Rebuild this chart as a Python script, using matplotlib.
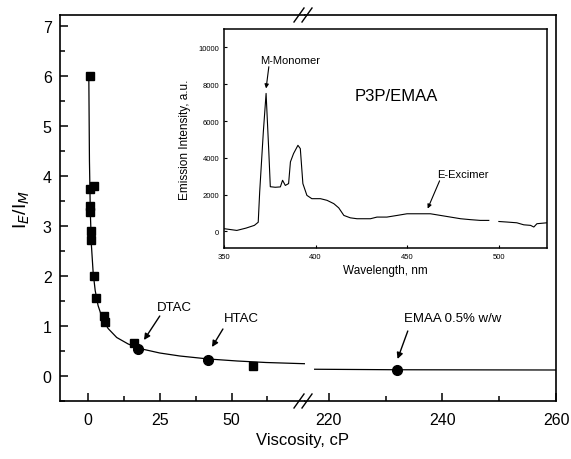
"""Excimer/monomer ratio vs viscosity, broken x axis, with emission spectrum inset."""

import matplotlib
matplotlib.use("Agg")
import matplotlib.pyplot as plt
from matplotlib.ticker import MultipleLocator, FixedLocator
import numpy as np

plt.rcParams["font.family"] = ["Liberation Sans", "DejaVu Sans"]

# --- Data ---
sq_x = [0.7, 0.7, 2.1, 0.7, 0.7, 1.2, 1.2, 2.1, 2.8, 5.6, 5.8, 16.0, 57.5]
sq_y = [6.0, 3.74, 3.80, 3.40, 3.28, 2.90, 2.72, 2.00, 1.56, 1.20, 1.08, 0.66, 0.20]

circ_x = [17.5, 41.8, 232.0]
circ_y = [0.54, 0.32, 0.12]
circ_names = ["DTAC", "HTAC", "EMAA 0.5% w/w"]

fit_x = [0.28, 0.5, 0.8, 1.2, 1.8, 2.5, 3.5, 5, 7, 10, 14, 18, 25, 32, 42, 52, 62, 73, 76]
fit_y = [6.0, 4.30, 3.28, 2.60, 2.06, 1.71, 1.41, 1.15, 0.95, 0.77, 0.64, 0.55,
         0.46, 0.40, 0.34, 0.30, 0.27, 0.25, 0.245]
fit_x_far = [217.5, 232.0, 260.0]
fit_y_far = [0.135, 0.125, 0.12]

wl = [350, 357, 362, 366.6, 368.7, 369.5, 371.5, 373, 374.5, 375.3, 378, 380.8, 382,
      383.5, 385.3, 386.3, 388, 390.4, 391.7, 393.1, 395.3, 398, 402.7, 406.3, 410,
      412.7, 415.5, 419, 422.7, 430, 433.6, 439, 444.6, 450, 455.5, 462.8, 468.3,
      473.8, 479.3, 484.7, 490, 494.7, 497, 500.2, 504.7, 510, 513.8, 517.5, 519.3,
      521, 526.5]
intensity = [150, 55, 180, 330, 500, 2150, 5420, 7500, 4300, 2430, 2400, 2420, 2780,
             2500, 2600, 3780, 4230, 4680, 4500, 2600, 1960, 1780, 1780, 1690, 1510,
             1280, 870, 740, 690, 690, 780, 780, 870, 960, 960, 960, 870,
             780, 690, 640, 600, 600, np.nan, 540, 510, 470, 360, 330, 240,
             420, 470]

# --- Figure ---
W, H = 571, 460
fig = plt.figure(figsize=(W / 100, H / 100), dpi=100)
fig.patch.set_facecolor("white")

x0, xb, x1 = 60 / W, 305 / W, 556 / W
y0, y1 = 1 - 402 / H, 1 - 16 / H
ax_l = fig.add_axes([x0, y0, xb - x0, y1 - y0])
ax_r = fig.add_axes([xb, y0, x1 - xb, y1 - y0], sharey=ax_l)

for ax in (ax_l, ax_r):
    for s in ax.spines.values():
        s.set_linewidth(1.2)
    ax.tick_params(which="both", direction="in", labelsize=11.5, width=1.1,
                   top=False, right=False, pad=8)
    ax.tick_params(which="major", length=6)
    ax.tick_params(which="minor", length=3.5)

ax_l.spines["right"].set_visible(False)
ax_r.spines["left"].set_visible(False)
ax_r.tick_params(axis="y", which="both", left=False, labelleft=False)

ax_l.set_xlim(-9.76, 75.6)
ax_r.set_xlim(215.8, 260)
ax_l.set_ylim(-0.5, 7.22)
ax_l.xaxis.set_major_locator(FixedLocator([0, 25, 50]))
ax_l.xaxis.set_minor_locator(FixedLocator([12.5, 37.5, 62.5]))
ax_r.xaxis.set_major_locator(MultipleLocator(20))
ax_r.xaxis.set_minor_locator(MultipleLocator(10))
ax_l.yaxis.set_major_locator(MultipleLocator(1))
ax_l.yaxis.set_minor_locator(MultipleLocator(0.5))
ax_l.tick_params(axis="y", pad=6)

ax_l.plot(fit_x, fit_y, color="black", lw=0.9, zorder=2)
ax_r.plot(fit_x_far, fit_y_far, color="black", lw=0.9, zorder=2)
ax_l.plot(sq_x, sq_y, "s", color="black", ms=6.2, zorder=3)
ax_l.plot(circ_x[:2], circ_y[:2], "o", color="black", ms=7, zorder=3)
ax_r.plot(circ_x[2:], circ_y[2:], "o", color="black", ms=7, zorder=3)

arrow = dict(arrowstyle="-|>", color="black", lw=1.0, mutation_scale=9,
             shrinkA=0, shrinkB=0)
ax_l.text(30, 1.38, circ_names[0], fontsize=9.5, ha="center", va="center")
ax_l.annotate("", xy=(19.5, 0.72), xytext=(25, 1.2), arrowprops=arrow)
ax_l.text(53.6, 1.16, circ_names[1], fontsize=9.5, ha="center", va="center")
ax_l.annotate("", xy=(43.2, 0.58), xytext=(47, 0.94), arrowprops=arrow)
ax_r.text(233.3, 1.16, circ_names[2], fontsize=9.5, ha="left", va="center")
ax_r.annotate("", xy=(232.1, 0.34), xytext=(233.9, 0.9), arrowprops=arrow)

ax_l.set_ylabel("I$_E$/I$_M$", fontsize=14, labelpad=8)
fig.text(303 / W, 1 - 441 / H, "Viscosity, cP", fontsize=12, ha="center", va="center")

# break marks
for yb in (y0, y1):
    for dx in (-6, 2):
        fig.add_artist(plt.Line2D([(300 + dx) / W, (310 + dx) / W],
                                  [yb - 7 / H, yb + 7 / H],
                                  color="black", lw=1.0, transform=fig.transFigure))

# --- Inset ---
ax_in = fig.add_axes([224 / W, 1 - 249 / H, (547 - 224) / W, (249 - 30) / H])
ax_in.plot(wl, intensity, color="black", lw=0.8)
ax_in.set_xlim(350, 526.5)
ax_in.set_ylim(-900, 11000)
ax_in.xaxis.set_major_locator(MultipleLocator(50))
ax_in.yaxis.set_major_locator(MultipleLocator(2000))
ax_in.tick_params(direction="in", length=2, labelsize=5.5, width=0.8)
for s in ax_in.spines.values():
    s.set_linewidth(1.1)
ax_in.set_xlabel("Wavelength, nm", fontsize=8.5, labelpad=3)
ax_in.set_ylabel("Emission Intensity, a.u.", fontsize=8.5, labelpad=5)
ax_in.text(421.5, 7390, "P3P/EMAA", fontsize=12, ha="left", va="center")
small_arrow = dict(arrowstyle="-|>", color="black", lw=0.8, mutation_scale=6,
                   shrinkA=0, shrinkB=0)
ax_in.text(386, 9300, "M-Monomer", fontsize=8, ha="center", va="center")
ax_in.annotate("", xy=(373, 7770), xytext=(374.5, 8950), arrowprops=small_arrow)
ax_in.text(480.4, 3140, "E-Excimer", fontsize=8, ha="center", va="center")
ax_in.annotate("", xy=(461.3, 1240), xytext=(467.8, 2750), arrowprops=small_arrow)

fig.savefig("out.png", dpi=100)
